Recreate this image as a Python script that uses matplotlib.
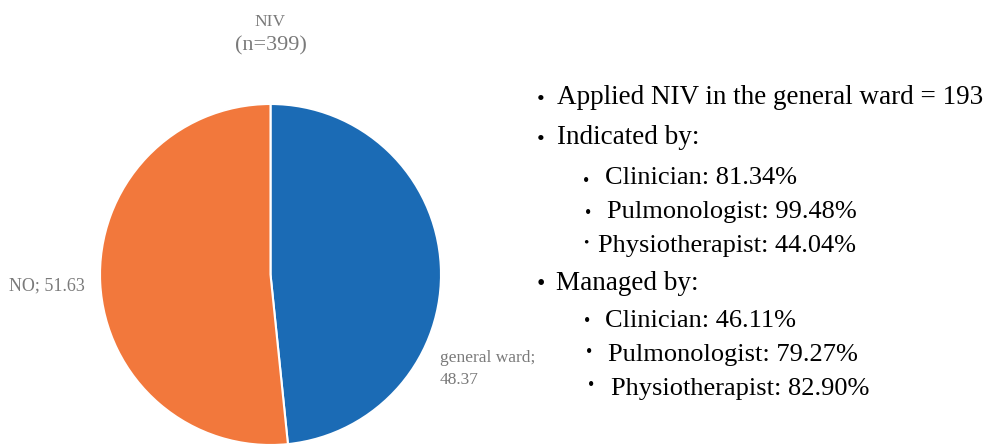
import matplotlib.pyplot as plt

# pie data
labels = ["general ward", "NO"]
values = [48.37, 51.63]
colors = ["#1b6bb5", "#f2783c"]

# text panel
title = "NIV"
subtitle = "(n=399)"
lines = [
    "Applied NIV in the general ward = 193",
    "Indicated by:",
    "Clinician: 81.34%",
    "Pulmonologist: 99.48%",
    "Physiotherapist: 44.04%",
    "Managed by:",
    "Clinician: 46.11%",
    "Pulmonologist: 79.27%",
    "Physiotherapist: 82.90%",
]
# (text x, y, bullet x, bullet y) in pixels from top-left
line_pos = [
    (557, 97, 541, 101),
    (557, 137, 541, 141),
    (605, 178, 586, 181),
    (607, 212, 588, 213),
    (598, 246, 586, 243),
    (556, 283, 541, 284),
    (605, 321, 587, 321),
    (608, 355, 589, 352),
    (611, 389, 591, 385),
]
line_size = [19.5, 19.5, 19, 19, 19, 19.5, 19, 19, 19]
bullet_size = [16, 16, 13, 13, 11, 17, 13, 13, 13]

W, H = 989, 444
plt.rcParams['font.family'] = ['Liberation Serif', 'DejaVu Serif']
fig = plt.figure(figsize=(W / 100, H / 100), dpi=100)


def px(x, y):
    return x / W, 1 - y / H


# pie axes: circle from x=100..440, y=103..444
ax = fig.add_axes([100 / W, -1 / H, 341 / W, 341 / H])
ax.pie(values, colors=colors, startangle=90, counterclock=False,
       wedgeprops=dict(edgecolor="white", linewidth=1.5))
ax.set_xlim(-1, 1)
ax.set_ylim(-1, 1)
ax.set_aspect("equal")
ax.axis("off")

gray = "#7a7a7a"
fig.text(*px(270, 22), title, ha="center", va="center", fontsize=12.5, color=gray)
fig.text(*px(271, 46), subtitle, ha="center", va="center", fontsize=16, color=gray)
fig.text(*px(9, 286), "%s; %.2f" % (labels[1], values[1]), ha="left", va="center",
         fontsize=13, color=gray)
fig.text(*px(440, 358), "%s;" % labels[0], ha="left", va="center", fontsize=12.5, color=gray)
fig.text(*px(440, 380), "%.2f" % values[0], ha="left", va="center", fontsize=12.5, color=gray)

for txt, (tx, ty, bx, by), fs, bs in zip(lines, line_pos, line_size, bullet_size):
    fig.text(*px(tx, ty), txt, ha="left", va="center", fontsize=fs, color="black")
    fig.text(*px(bx, by), "\u2022", ha="center", va="center", fontsize=bs, color="black")

fig.savefig("out.png", dpi=100)
